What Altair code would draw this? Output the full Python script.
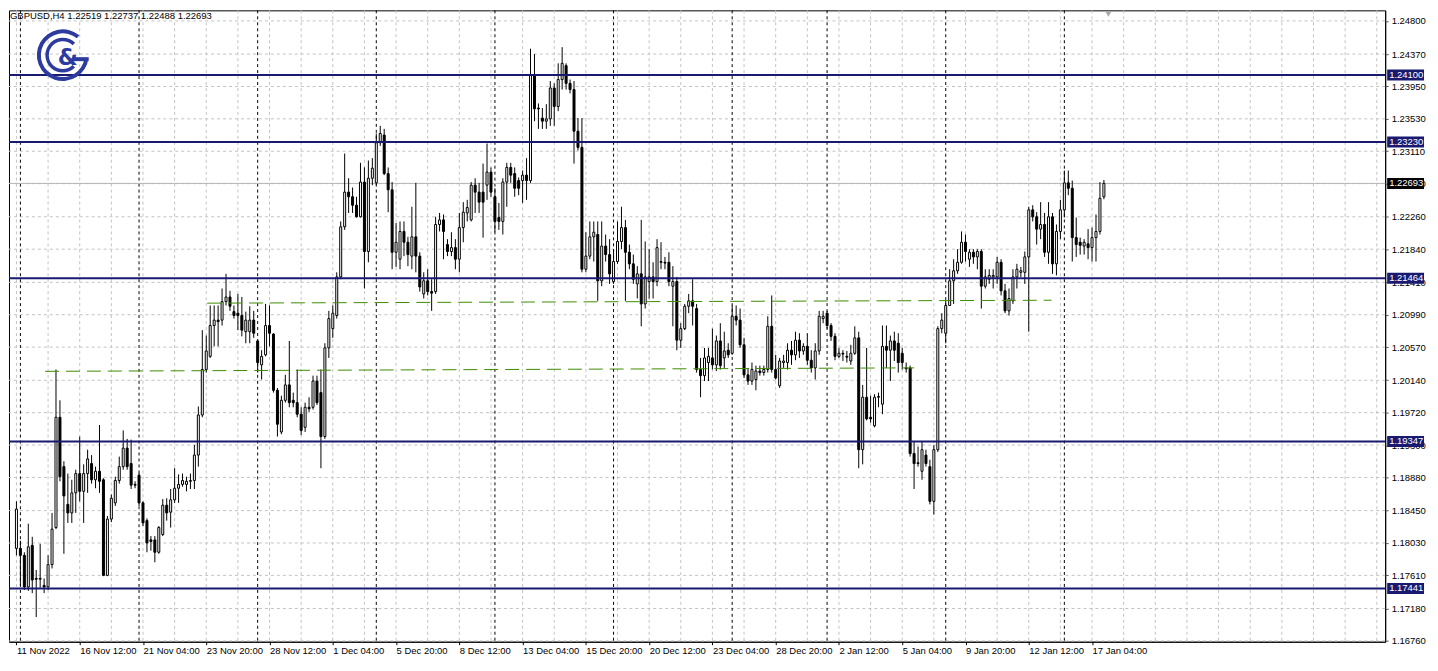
import altair as alt
import pandas as pd

FONT = "Liberation Sans"
NAVY = "#191970"
GREEN = "#3c8c00"
GRID = "#c3c3c3"
LOGO = "#2e3b9e"

header_text = "GBPUSD,H4  1.22519 1.22737 1.22488 1.22693"

opens = [1.1796,1.1796,1.1787,1.1746,1.1800,1.1757,1.1756,1.1748,1.1746,1.1775,
         1.1823,1.1966,1.1902,1.1853,1.1842,1.1868,1.1893,1.1870,1.1893,1.1906,
         1.1885,1.1896,1.1885,1.1761,1.1834,1.1855,1.1884,1.1902,1.1926,1.1906,
         1.1879,1.1891,1.1855,1.1832,1.1807,1.1807,1.1791,1.1814,1.1852,1.1843,
         1.1859,1.1874,1.1879,1.1879,1.1883,1.1884,1.1917,1.1969,1.2028,1.2045,
         1.2085,1.2092,1.2092,1.2116,1.2122,1.2103,1.2101,1.2098,1.2077,1.2077,
         1.2092,1.2065,1.2034,1.2047,1.2085,1.2074,1.2001,1.1947,1.1988,1.2008,
         1.1988,1.1985,1.1970,1.1953,1.1979,1.1979,1.2013,1.1998,1.1941,1.2056,
         1.2081,1.2098,1.2148,1.2213,1.2258,1.2252,1.2241,1.2226,1.2271,1.2181,
         1.2276,1.2270,1.2322,1.2332,1.2282,1.2261,1.2180,1.2171,1.2207,1.2193,
         1.2175,1.2200,1.2175,1.2126,1.2143,1.2129,1.2129,1.2216,1.2222,1.2190,
         1.2181,1.2186,1.2171,1.2212,1.2231,1.2222,1.2267,1.2258,1.2258,1.2267,
         1.2284,1.2252,1.2225,1.2220,1.2271,1.2290,1.2282,1.2273,1.2273,1.2280,
         1.2273,1.2410,1.2367,1.2354,1.2350,1.2353,1.2393,1.2369,1.2404,1.2422,
         1.2399,1.2391,1.2337,1.2316,1.2158,1.2175,1.2200,1.2203,1.2143,1.2188,
         1.2177,1.2142,1.2168,1.2194,1.2212,1.2180,1.2165,1.2139,1.2152,1.2113,
         1.2142,1.2148,1.2142,1.2168,1.2167,1.2167,1.2136,1.2142,1.2066,1.2081,
         1.2110,1.2117,1.2107,1.2028,1.2020,1.2037,1.2043,1.2034,1.2065,1.2043,
         1.2053,1.2049,1.2097,1.2092,1.2060,1.2021,1.2013,1.2015,1.2026,1.2024,
         1.2028,1.2084,1.2028,1.2007,1.2037,1.2037,1.2053,1.2047,1.2066,1.2052,
         1.2058,1.2040,1.2030,1.2052,1.2094,1.2101,1.2085,1.2071,1.2045,1.2049,
         1.2045,1.2039,1.2049,1.2069,1.1924,1.1992,1.1966,1.1955,1.1992,1.1983,
         1.2058,1.2053,1.2065,1.2062,1.2049,1.2030,1.2030,1.1919,1.1907,1.1896,
         1.1917,1.1902,1.1857,1.1924,1.2081,1.2075,1.2111,1.2143,1.2156,1.2167,
         1.2193,1.2171,1.2180,1.2174,1.2181,1.2136,1.2145,1.2148,1.2148,1.2167,
         1.2130,1.2104,1.2117,1.2148,1.2154,1.2154,1.2174,1.2235,1.2226,1.2210,
         1.2216,1.2180,1.2226,1.2165,1.2207,1.2235,1.2270,1.2263,1.2199,1.2193,
         1.2188,1.2191,1.2186,1.2199,1.2207,1.22519]

highs = [1.1857,1.1806,1.1791,1.1828,1.1811,1.1768,1.1802,1.1757,1.1787,1.1842,
         1.2028,1.1988,1.1909,1.1893,1.1885,1.1898,1.1941,1.1905,1.1924,1.1917,
         1.1902,1.1956,1.1887,1.1838,1.1866,1.1889,1.1915,1.1949,1.1938,1.1937,
         1.1883,1.1894,1.1857,1.1835,1.1812,1.1812,1.1825,1.1860,1.1861,1.1873,
         1.1900,1.1892,1.1893,1.1889,1.1893,1.1930,1.1980,1.2079,1.2072,1.2111,
         1.2111,1.2111,1.2133,1.2152,1.2130,1.2111,1.2126,1.2122,1.2103,1.2110,
         1.2104,1.2066,1.2053,1.2113,1.2111,1.2075,1.2004,1.1994,1.2021,1.2065,
         1.1998,1.2028,1.1979,1.1985,1.1992,1.2020,1.2020,1.2028,1.2062,1.2104,
         1.2111,1.2154,1.2220,1.2308,1.2276,1.2264,1.2252,1.2296,1.2290,1.2299,
         1.2302,1.2334,1.2344,1.2340,1.2290,1.2271,1.2218,1.2220,1.2220,1.2200,
         1.2239,1.2270,1.2180,1.2154,1.2158,1.2145,1.2226,1.2231,1.2229,1.2197,
         1.2206,1.2197,1.2231,1.2245,1.2248,1.2271,1.2276,1.2270,1.2295,1.2321,
         1.2290,1.2263,1.2244,1.2276,1.2296,1.2296,1.2290,1.2277,1.2286,1.2302,
         1.2444,1.2437,1.2373,1.2367,1.2372,1.2402,1.2399,1.2425,1.2446,1.2425,
         1.2404,1.2402,1.2354,1.2354,1.2206,1.2220,1.2220,1.2220,1.2220,1.2203,
         1.2197,1.2184,1.2220,1.2239,1.2222,1.2190,1.2177,1.2162,1.2222,1.2194,
         1.2184,1.2167,1.2197,1.2193,1.2174,1.2180,1.2162,1.2148,1.2088,1.2113,
         1.2126,1.2145,1.2113,1.2043,1.2056,1.2056,1.2081,1.2072,1.2088,1.2077,
         1.2062,1.2111,1.2111,1.2107,1.2069,1.2030,1.2037,1.2033,1.2033,1.2033,
         1.2097,1.2124,1.2047,1.2043,1.2047,1.2062,1.2065,1.2077,1.2075,1.2062,
         1.2075,1.2053,1.2062,1.2104,1.2104,1.2104,1.2088,1.2075,1.2056,1.2053,
         1.2052,1.2060,1.2084,1.2077,1.2008,1.2056,1.1994,1.1996,1.1998,1.2085,
         1.2085,1.2072,1.2077,1.2075,1.2056,1.2037,1.2033,1.1934,1.1928,1.1934,
         1.1924,1.1911,1.1930,1.2084,1.2101,1.2117,1.2158,1.2171,1.2184,1.2207,
         1.2203,1.2184,1.2184,1.2184,1.2184,1.2158,1.2158,1.2158,1.2174,1.2171,
         1.2139,1.2133,1.2158,1.2165,1.2161,1.2181,1.2239,1.2241,1.2232,1.2245,
         1.2231,1.2245,1.2231,1.2216,1.2248,1.2286,1.2286,1.2273,1.2225,1.2199,
         1.2197,1.2210,1.2212,1.2229,1.2271,1.22737]

lows = [1.1787,1.1748,1.1742,1.1741,1.1738,1.1707,1.1745,1.1738,1.1742,1.1770,
        1.1821,1.1883,1.1789,1.1829,1.1829,1.1842,1.1857,1.1829,1.1868,1.1880,
        1.1874,1.1868,1.1760,1.1760,1.1830,1.1851,1.1880,1.1898,1.1898,1.1873,
        1.1874,1.1851,1.1825,1.1791,1.1793,1.1778,1.1789,1.1812,1.1832,1.1823,
        1.1855,1.1855,1.1876,1.1870,1.1873,1.1873,1.1902,1.1966,1.2024,1.2043,
        1.2058,1.2058,1.2085,1.2111,1.2104,1.2094,1.2079,1.2071,1.2062,1.2062,
        1.2069,1.2024,1.2015,1.2045,1.2058,1.1998,1.1941,1.1944,1.1985,1.1979,
        1.1979,1.1966,1.1943,1.1947,1.1973,1.1976,1.1982,1.1900,1.1938,1.2043,
        1.2069,1.2094,1.2145,1.2209,1.2231,1.2231,1.2225,1.2225,1.2133,1.2167,
        1.2267,1.2267,1.2318,1.2280,1.2232,1.2158,1.2161,1.2158,1.2175,1.2162,
        1.2158,1.2154,1.2129,1.2120,1.2124,1.2104,1.2126,1.2207,1.2171,1.2175,
        1.2175,1.2158,1.2154,1.2193,1.2220,1.2220,1.2231,1.2231,1.2199,1.2248,
        1.2252,1.2206,1.2209,1.2203,1.2239,1.2270,1.2252,1.2254,1.2244,1.2248,
        1.2270,1.2350,1.2340,1.2340,1.2340,1.2344,1.2344,1.2363,1.2391,1.2391,
        1.2386,1.2295,1.2312,1.2154,1.2154,1.2171,1.2168,1.2117,1.2136,1.2168,
        1.2139,1.2139,1.2165,1.2184,1.2117,1.2158,1.2139,1.2120,1.2084,1.2107,
        1.2120,1.2120,1.2136,1.2158,1.2158,1.2136,1.2084,1.2053,1.2056,1.2079,
        1.2101,1.2085,1.2024,1.1992,1.2013,1.2013,1.2028,1.2026,1.2028,1.2030,
        1.2043,1.2047,1.2085,1.2056,1.2017,1.2008,1.2008,1.2001,1.2020,1.2020,
        1.2024,1.2024,1.2015,1.2004,1.2030,1.2028,1.2034,1.2040,1.2043,1.2047,
        1.2034,1.2024,1.2015,1.2047,1.2088,1.2081,1.2065,1.2040,1.2043,1.2039,
        1.2037,1.2034,1.2047,1.1900,1.1905,1.1962,1.1959,1.1953,1.1979,1.1970,
        1.2030,1.2013,1.2039,1.2024,1.2028,1.2024,1.1915,1.1873,1.1902,1.1885,
        1.1902,1.1853,1.1840,1.1921,1.2075,1.2062,1.2111,1.2113,1.2152,1.2165,
        1.2168,1.2161,1.2165,1.2158,1.2107,1.2133,1.2139,1.2133,1.2139,1.2124,
        1.2101,1.2098,1.2113,1.2133,1.2148,1.2139,1.2077,1.2220,1.2190,1.2197,
        1.2174,1.2165,1.2152,1.2150,1.2197,1.2225,1.2254,1.2168,1.2174,1.2177,
        1.2177,1.2171,1.2168,1.2168,1.2203,1.22488]

closes = [1.1847,1.1787,1.1746,1.1798,1.1755,1.1756,1.1757,1.1746,1.1775,1.1821,
          1.1966,1.1889,1.1864,1.1842,1.1868,1.1893,1.1870,1.1893,1.1912,1.1885,
          1.1896,1.1883,1.1761,1.1834,1.1861,1.1884,1.1902,1.1926,1.1902,1.1878,
          1.1878,1.1855,1.1829,1.1803,1.1805,1.1791,1.1823,1.1852,1.1842,1.1859,
          1.1874,1.1879,1.1884,1.1883,1.1884,1.1917,1.1969,1.2028,1.2052,1.2085,
          1.2092,1.2090,1.2116,1.2122,1.2110,1.2098,1.2098,1.2079,1.2092,1.2092,
          1.2075,1.2037,1.2045,1.2085,1.2075,1.2001,1.1957,1.1988,1.2008,1.1985,
          1.1985,1.1970,1.1949,1.1979,1.1977,1.2013,1.1985,1.1941,1.2056,1.2094,
          1.2101,1.2148,1.2213,1.2258,1.2252,1.2241,1.2226,1.2271,1.2181,1.2276,
          1.2289,1.2322,1.2334,1.2282,1.2261,1.2180,1.2193,1.2207,1.2193,1.2177,
          1.2200,1.2175,1.2135,1.2143,1.2129,1.2127,1.2216,1.2222,1.2207,1.2181,
          1.2186,1.2171,1.2212,1.2232,1.2238,1.2267,1.2258,1.2245,1.2245,1.2284,
          1.2258,1.2220,1.2220,1.2271,1.2290,1.2280,1.2263,1.2263,1.2280,1.2273,
          1.2410,1.2366,1.2366,1.2350,1.2353,1.2393,1.2369,1.2404,1.2425,1.2399,
          1.2391,1.2337,1.2316,1.2158,1.2175,1.2200,1.2206,1.2143,1.2188,1.2177,
          1.2152,1.2168,1.2194,1.2212,1.2180,1.2165,1.2145,1.2152,1.2113,1.2148,
          1.2148,1.2142,1.2186,1.2167,1.2166,1.2142,1.2142,1.2066,1.2081,1.2110,
          1.2117,1.2110,1.2028,1.2020,1.2043,1.2045,1.2034,1.2065,1.2033,1.2052,
          1.2047,1.2097,1.2092,1.2060,1.2021,1.2013,1.2028,1.2026,1.2024,1.2028,
          1.2084,1.2028,1.2017,1.2039,1.2039,1.2053,1.2047,1.2066,1.2052,1.2058,
          1.2040,1.2030,1.2052,1.2097,1.2097,1.2085,1.2071,1.2045,1.2049,1.2048,
          1.2044,1.2049,1.2069,1.1924,1.1992,1.1964,1.1964,1.1992,1.1993,1.2058,
          1.2053,1.2065,1.2053,1.2037,1.2037,1.2029,1.1919,1.1906,1.1906,1.1924,
          1.1906,1.1857,1.1924,1.2081,1.2092,1.2111,1.2143,1.2156,1.2167,1.2193,
          1.2181,1.2180,1.2174,1.2181,1.2136,1.2148,1.2150,1.2150,1.2167,1.2130,
          1.2104,1.2120,1.2148,1.2158,1.2156,1.2174,1.2235,1.2226,1.2210,1.2216,
          1.2180,1.2226,1.2165,1.2207,1.2235,1.2270,1.2263,1.2199,1.2190,1.2189,
          1.2193,1.2186,1.2199,1.2207,1.2250,1.22693]

date_idx = [0, 16, 32, 48, 64, 80, 96, 112, 128, 144, 160, 176, 192, 208, 224, 240, 256, 272]
date_labels = ["11 Nov 2022", "16 Nov 12:00", "21 Nov 04:00", "23 Nov 20:00", "28 Nov 12:00",
               "1 Dec 04:00", "5 Dec 20:00", "8 Dec 12:00", "13 Dec 04:00", "15 Dec 20:00",
               "20 Dec 12:00", "23 Dec 04:00", "28 Dec 20:00", "2 Jan 12:00", "5 Jan 04:00",
               "9 Jan 20:00", "12 Jan 12:00", "17 Jan 04:00"]
week_starts = [1, 31, 61, 91, 121, 151, 181, 205, 235, 265]
grid_idx = list(range(0, 345, 8))
y_ticks = [1.24800, 1.24370, 1.23950, 1.23530, 1.23110, 1.22690, 1.22260, 1.21840, 1.21410,
           1.20990, 1.20570, 1.20140, 1.19720, 1.19300, 1.18880, 1.18450, 1.18030, 1.17610,
           1.17180, 1.16760]
levels = [1.24100, 1.23230, 1.21464, 1.19347, 1.17441]
current_price = 1.22693
trend_id = ["low", "low", "high", "high"]
trend_idx = [7.25, 227.0, 48.25, 261.75]
trend_price = [1.20256, 1.20301, 1.21140, 1.21178]

W, H = 1382, 634
BOX_L, BOX_R = W + 2, W + 39

candles = pd.DataFrame({"i": list(range(len(opens))), "open": opens, "high": highs,
                        "low": lows, "close": closes})
candles["dir"] = ["up" if c >= o else "down" for o, c in zip(opens, closes)]

xs = alt.Scale(domain=[-0.625, 344.875], nice=False, zero=False)
ys = alt.Scale(domain=[1.1675, 1.24937], nice=False, zero=False)

labels_js = "[" + ",".join("'" + s + "'" for s in date_labels) + "]"
x_axis = alt.Axis(values=date_idx, labelExpr=labels_js + "[round(datum.value/16)]",
                  orient="bottom", grid=False, tickSize=3, tickColor="black",
                  domainColor="black", labelAlign="left", labelFont=FONT, labelFontSize=9.5,
                  labelColor="black", labelPadding=1, title=None, labelOverlap=False,
                  labelFlush=False, labelBound=False)
y_axis = alt.Axis(values=y_ticks, format=".5f", orient="right", grid=False, tickSize=3,
                  tickColor="#606060", domainColor="black", labelFont=FONT,
                  labelFontSize=9.5, labelColor="black", labelPadding=3, title=None,
                  labelOverlap=False, labelFlush=False, labelBound=False)


def X(f):
    return alt.X(f, type="quantitative", scale=xs, axis=x_axis)


def Y(f):
    return alt.Y(f, type="quantitative", scale=ys, axis=y_axis)


one = pd.DataFrame({"a": [0]})

vgrid = alt.Chart(pd.DataFrame({"i": grid_idx})).mark_rule(
    color=GRID, strokeDash=[3, 3], strokeWidth=1).encode(x=X("i"))
hgrid = alt.Chart(pd.DataFrame({"p": y_ticks})).mark_rule(
    color=GRID, strokeDash=[3, 3], strokeWidth=1).encode(y=Y("p"))
seps = alt.Chart(pd.DataFrame({"i": week_starts})).mark_rule(
    color="black", strokeDash=[3, 3], strokeWidth=1).encode(x=X("i"))
cur_line = alt.Chart(pd.DataFrame({"p": [current_price]})).mark_rule(
    color="#b4b4b4", strokeWidth=1).encode(y=Y("p"))

wicks = alt.Chart(candles).mark_rule(color="black", strokeWidth=1).encode(
    x=X("i"), y=Y("low"), y2=alt.Y2("high"))
bodies = alt.Chart(candles).mark_bar(width=2, stroke="black", strokeWidth=1).encode(
    x=X("i"), y=Y("open"), y2=alt.Y2("close"),
    fill=alt.Fill("dir:N", scale=alt.Scale(domain=["up", "down"], range=["white", "black"]),
                  legend=None))

trends = alt.Chart(pd.DataFrame({"line": trend_id, "i": trend_idx, "p": trend_price})).mark_line(
    color=GREEN, strokeWidth=1, strokeDash=[14, 7]).encode(
    x=X("i"), y=Y("p"), detail="line:N")

lvl_df = pd.DataFrame({"p": levels, "label": [f"{v:.5f}" for v in levels]})
lvl_lines = alt.Chart(lvl_df).mark_rule(color=NAVY, strokeWidth=2).encode(y=Y("p"))
lvl_boxes = alt.Chart(lvl_df).mark_rule(color=NAVY, strokeWidth=11, strokeCap="butt").encode(
    y=Y("p"), x=alt.value(BOX_L), x2=alt.value(BOX_R))
lvl_text = alt.Chart(lvl_df).mark_text(align="left", baseline="middle", color="white",
                                       font=FONT, fontSize=9.5).encode(
    y=Y("p"), x=alt.value(W + 4), text="label:N")

cur_df = pd.DataFrame({"p": [current_price], "label": [f"{current_price:.5f}"]})
cur_box = alt.Chart(cur_df).mark_rule(color="black", strokeWidth=11, strokeCap="butt").encode(
    y=Y("p"), x=alt.value(BOX_L), x2=alt.value(BOX_R))
cur_text = alt.Chart(cur_df).mark_text(align="left", baseline="middle", color="white",
                                       font=FONT, fontSize=9.5).encode(
    y=Y("p"), x=alt.value(W + 4), text="label:N")

logo_g = alt.Chart(one).mark_arc(color=LOGO).encode(
    x=alt.value(54), y=alt.value(45), theta=alt.value(1.70), theta2=alt.value(6.98),
    radius=alt.value(26), radius2=alt.value(22))
logo_c = alt.Chart(one).mark_arc(color=LOGO).encode(
    x=alt.value(54), y=alt.value(45), theta=alt.value(2.36), theta2=alt.value(7.07),
    radius=alt.value(17.5), radius2=alt.value(14))
logo_bar = alt.Chart(one).mark_rule(color=LOGO, strokeWidth=4).encode(
    x=alt.value(64), x2=alt.value(80), y=alt.value(49))
logo_amp = alt.Chart(one).mark_text(text="&", font="DejaVu Sans", fontSize=23,
                                    fontWeight="bold", color=LOGO, align="center",
                                    baseline="middle").encode(
    x=alt.value(59), y=alt.value(48))

header = alt.Chart(one).mark_text(text=header_text, font=FONT, fontSize=9.5, color="black",
                                  align="left", baseline="middle").encode(
    x=alt.value(1), y=alt.value(6))
shift_mark = alt.Chart(one).mark_point(shape="triangle-down", filled=True, color="#a8a8a8",
                                       size=30, opacity=1).encode(
    x=alt.value(1104), y=alt.value(4))

chart = alt.layer(
    vgrid, hgrid, seps, cur_line, wicks, bodies, trends, lvl_lines,
    lvl_boxes, lvl_text, cur_box, cur_text,
    logo_g, logo_c, logo_bar, logo_amp, header, shift_mark
).properties(
    width=W, height=H, padding=0, background="white"
).configure_view(stroke="black", strokeWidth=1)

chart.save("out.html", embed_options={"renderer": "svg", "actions": False})
